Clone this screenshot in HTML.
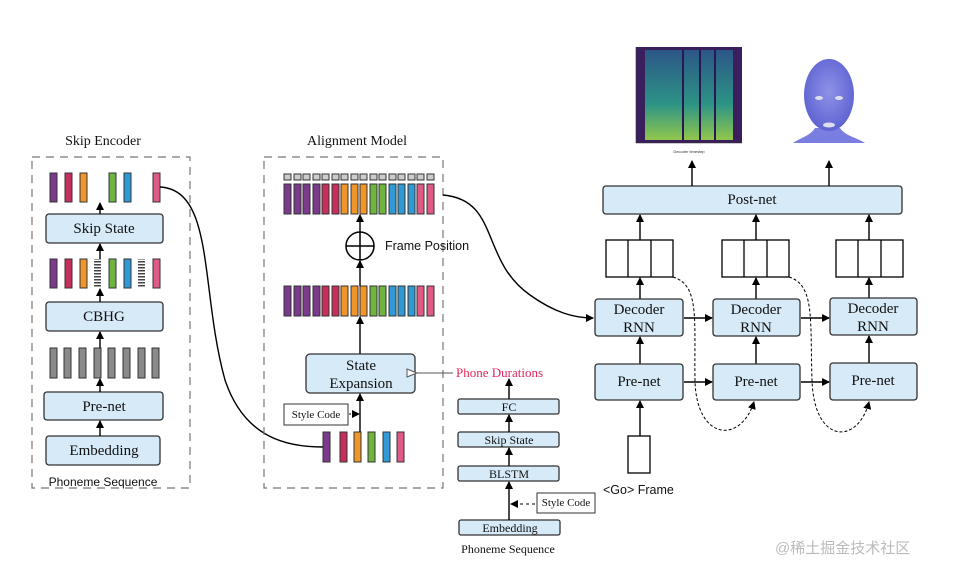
<!DOCTYPE html>
<html><head><meta charset="utf-8"><style>
body{margin:0;background:#fff}
svg{display:block}
.b{fill:#d6eaf8;stroke:#333;stroke-width:1.3}
.t{font-family:"Liberation Serif",serif;fill:#111;text-anchor:middle}
.s{font-family:"Liberation Sans",sans-serif;fill:#111}
.ar{stroke:#000;stroke-width:1.4;fill:none}
</style></head><body>
<svg width="954" height="576" viewBox="0 0 954 576" xmlns="http://www.w3.org/2000/svg">
<defs>
<marker id="a" markerWidth="8" markerHeight="8" refX="7" refY="4" orient="auto" markerUnits="userSpaceOnUse"><path d="M0,0 L8,4 L0,8z" fill="#000"/></marker>
<marker id="h" markerWidth="12" markerHeight="10" refX="1" refY="5" orient="auto" markerUnits="userSpaceOnUse"><path d="M11,1 L1,5 L11,9z" fill="#fff" stroke="#555"/></marker>
<pattern id="st" width="7" height="3" patternUnits="userSpaceOnUse"><rect width="7" height="3" fill="#fff"/><rect width="7" height="1.5" fill="#444"/></pattern>
<linearGradient id="sp" x1="0" y1="1" x2="0" y2="0"><stop offset="0" stop-color="#9bd94a"/><stop offset="0.4" stop-color="#2aa08a"/><stop offset="1" stop-color="#2b5c8c"/></linearGradient>
<radialGradient id="fc" cx="0.5" cy="0.45" r="0.6"><stop offset="0" stop-color="#8f92e6"/><stop offset="1" stop-color="#5a5fd0"/></radialGradient>
</defs>

<!-- Skip Encoder -->
<text class="t" x="103" y="145" font-size="14">Skip Encoder</text>
<rect x="32" y="157" width="158" height="331" fill="none" stroke="#777" stroke-dasharray="8,6" stroke-width="1.2"/>
<g stroke="#333" stroke-width="1">
<rect x="50" y="173" width="7" height="29" fill="#7b3a8c"/><rect x="65" y="173" width="7" height="29" fill="#c82e5a"/><rect x="80" y="173" width="7" height="29" fill="#f0952a"/><rect x="109" y="173" width="7" height="29" fill="#6fb43f"/><rect x="124" y="173" width="7" height="29" fill="#2f9ad6"/><rect x="153" y="173" width="7" height="29" fill="#e05a86"/>
<rect x="50" y="259" width="7" height="29" fill="#7b3a8c"/><rect x="65" y="259" width="7" height="29" fill="#c82e5a"/><rect x="80" y="259" width="7" height="29" fill="#f0952a"/><rect x="94" y="259" width="7" height="29" fill="url(#st)" stroke="none"/><rect x="109" y="259" width="7" height="29" fill="#6fb43f"/><rect x="124" y="259" width="7" height="29" fill="#2f9ad6"/><rect x="138" y="259" width="7" height="29" fill="url(#st)" stroke="none"/><rect x="153" y="259" width="7" height="29" fill="#e05a86"/>
<g fill="#8a8a8a"><rect x="50" y="348" width="7" height="30"/><rect x="64" y="348" width="7" height="30"/><rect x="79" y="348" width="7" height="30"/><rect x="94" y="348" width="7" height="30"/><rect x="108" y="348" width="7" height="30"/><rect x="123" y="348" width="7" height="30"/><rect x="138" y="348" width="7" height="30"/><rect x="152" y="348" width="7" height="30"/></g>
</g>
<rect class="b" x="46" y="214" width="117" height="29" rx="3"/><text class="t" x="104" y="233" font-size="15">Skip State</text>
<rect class="b" x="46" y="302" width="117" height="29" rx="3"/><text class="t" x="104" y="321" font-size="15">CBHG</text>
<rect class="b" x="44" y="392" width="119" height="28" rx="3"/><text class="t" x="104" y="411" font-size="15">Pre-net</text>
<rect class="b" x="46" y="436" width="114" height="29" rx="3"/><text class="t" x="104" y="455" font-size="15">Embedding</text>
<text class="s" x="103" y="486" font-size="12" text-anchor="middle">Phoneme Sequence</text>
<g class="ar" marker-end="url(#a)">
<line x1="100" y1="214" x2="100" y2="203"/><line x1="100" y1="302" x2="100" y2="289"/><line x1="100" y1="392" x2="100" y2="379"/><line x1="100" y1="436" x2="100" y2="421"/><line x1="100" y1="348" x2="100" y2="332"/><line x1="100" y1="259" x2="100" y2="244"/>
</g>
<path d="M160,187 C215,190 200,290 225,380 C245,440 290,447 323,447" class="ar"/>

<!-- Alignment Model -->
<text class="t" x="357" y="145" font-size="14">Alignment Model</text>
<rect x="264" y="157" width="179" height="331" fill="none" stroke="#777" stroke-dasharray="8,6" stroke-width="1.2"/>
<g stroke="#333" stroke-width="1">
<g fill="#ccc">
<rect x="284" y="174" width="7" height="6"/><rect x="294" y="174" width="7" height="6"/><rect x="303" y="174" width="7" height="6"/><rect x="313" y="174" width="7" height="6"/><rect x="322" y="174" width="7" height="6"/><rect x="332" y="174" width="7" height="6"/><rect x="341" y="174" width="7" height="6"/><rect x="351" y="174" width="7" height="6"/><rect x="360" y="174" width="7" height="6"/><rect x="370" y="174" width="7" height="6"/><rect x="379" y="174" width="7" height="6"/><rect x="389" y="174" width="7" height="6"/><rect x="398" y="174" width="7" height="6"/><rect x="408" y="174" width="7" height="6"/><rect x="417" y="174" width="7" height="6"/><rect x="427" y="174" width="7" height="6"/>
</g>
<g id="row">
<rect x="284" y="184" width="7" height="30" fill="#7b3a8c"/><rect x="294" y="184" width="7" height="30" fill="#7b3a8c"/><rect x="303" y="184" width="7" height="30" fill="#7b3a8c"/><rect x="313" y="184" width="7" height="30" fill="#7b3a8c"/><rect x="322" y="184" width="7" height="30" fill="#c82e5a"/><rect x="332" y="184" width="7" height="30" fill="#c82e5a"/><rect x="341" y="184" width="7" height="30" fill="#f0952a"/><rect x="351" y="184" width="7" height="30" fill="#f0952a"/><rect x="360" y="184" width="7" height="30" fill="#f0952a"/><rect x="370" y="184" width="7" height="30" fill="#6fb43f"/><rect x="379" y="184" width="7" height="30" fill="#6fb43f"/><rect x="389" y="184" width="7" height="30" fill="#2f9ad6"/><rect x="398" y="184" width="7" height="30" fill="#2f9ad6"/><rect x="408" y="184" width="7" height="30" fill="#2f9ad6"/><rect x="417" y="184" width="7" height="30" fill="#e05a86"/><rect x="427" y="184" width="7" height="30" fill="#e05a86"/>
</g>
<use href="#row" y="102"/>
<rect x="323" y="432" width="7" height="30" fill="#7b3a8c"/><rect x="340" y="432" width="7" height="30" fill="#c82e5a"/><rect x="354" y="432" width="7" height="30" fill="#f0952a"/><rect x="368" y="432" width="7" height="30" fill="#6fb43f"/><rect x="383" y="432" width="7" height="30" fill="#2f9ad6"/><rect x="397" y="432" width="7" height="30" fill="#e05a86"/>
</g>
<circle cx="360" cy="246" r="14" fill="#fff" stroke="#000" stroke-width="1.5"/>
<line x1="346" y1="246" x2="374" y2="246" stroke="#000" stroke-width="1.5"/><line x1="360" y1="232" x2="360" y2="260" stroke="#000" stroke-width="1.5"/>
<text class="s" x="385" y="250" font-size="12.5">Frame Position</text>
<g class="ar" marker-end="url(#a)">
<line x1="360" y1="232" x2="360" y2="215"/><line x1="360" y1="286" x2="360" y2="261"/><line x1="360" y1="354" x2="360" y2="317"/><line x1="360" y1="432" x2="360" y2="394"/>
</g>
<rect class="b" x="306" y="354" width="109" height="39" rx="4"/>
<text class="t" x="361" y="370" font-size="15">State</text><text class="t" x="361" y="388" font-size="15">Expansion</text>
<rect x="284" y="404" width="64" height="21" fill="#fff" stroke="#333"/><text class="t" x="316" y="418" font-size="11">Style Code</text>
<line x1="349" y1="414" x2="359" y2="414" stroke="#000" stroke-dasharray="2,2" marker-end="url(#a)"/>
<line x1="453" y1="373" x2="417" y2="373" stroke="#555" marker-end="url(#h)"/>
<text x="456" y="377" font-family="Liberation Serif,serif" font-size="13" fill="#e0285a">Phone Durations</text>

<!-- duration predictor -->
<rect class="b" x="458" y="399" width="101" height="15" rx="2"/><text class="t" x="509" y="411" font-size="12">FC</text>
<rect class="b" x="458" y="432" width="101" height="15" rx="2"/><text class="t" x="509" y="444" font-size="12">Skip State</text>
<rect class="b" x="458" y="466" width="101" height="15" rx="2"/><text class="t" x="509" y="478" font-size="12">BLSTM</text>
<rect class="b" x="459" y="520" width="101" height="15" rx="2"/><text class="t" x="510" y="532" font-size="12">Embedding</text>
<text class="t" x="508" y="553" font-size="12">Phoneme Sequence</text>
<rect x="537" y="493" width="58" height="20" fill="#fff" stroke="#333"/><text class="t" x="566" y="506" font-size="11">Style Code</text>
<g class="ar" marker-end="url(#a)">
<line x1="509" y1="399" x2="509" y2="379"/><line x1="509" y1="432" x2="509" y2="415"/><line x1="509" y1="466" x2="509" y2="448"/><line x1="509" y1="520" x2="509" y2="482"/>
</g>
<line x1="535" y1="504" x2="511" y2="504" stroke="#000" stroke-dasharray="3,3" marker-end="url(#a)"/>

<!-- curve to decoder -->
<path d="M443,195 C500,200 480,260 530,295 C555,313 575,318 593,318" class="ar" marker-end="url(#a)"/>

<!-- Decoder -->
<rect class="b" x="603" y="186" width="299" height="28" rx="3"/><text class="t" x="752" y="204" font-size="15">Post-net</text>
<g class="ar" marker-end="url(#a)">
<line x1="692" y1="186" x2="692" y2="161"/><line x1="829" y1="186" x2="829" y2="161"/>
<line x1="640" y1="240" x2="640" y2="215"/><line x1="756" y1="240" x2="756" y2="215"/><line x1="869" y1="240" x2="869" y2="215"/>
<line x1="640" y1="299" x2="640" y2="278"/><line x1="756" y1="299" x2="756" y2="278"/><line x1="869" y1="298" x2="869" y2="278"/>
<line x1="640" y1="364" x2="640" y2="337"/><line x1="756" y1="364" x2="756" y2="337"/><line x1="869" y1="363" x2="869" y2="336"/>
<line x1="640" y1="436" x2="640" y2="401"/>
<line x1="684" y1="318" x2="712" y2="318"/><line x1="801" y1="318" x2="829" y2="318"/>
<line x1="684" y1="382" x2="712" y2="382"/><line x1="801" y1="382" x2="829" y2="382"/>
</g>
<g fill="#fff" stroke="#000" stroke-width="1.3">
<rect x="606" y="240" width="67" height="37"/><line x1="628" y1="240" x2="628" y2="277"/><line x1="651" y1="240" x2="651" y2="277"/>
<rect x="722" y="240" width="67" height="37"/><line x1="744" y1="240" x2="744" y2="277"/><line x1="767" y1="240" x2="767" y2="277"/>
<rect x="836" y="240" width="67" height="37"/><line x1="858" y1="240" x2="858" y2="277"/><line x1="881" y1="240" x2="881" y2="277"/>
<rect x="628" y="436" width="22" height="37"/>
</g>
<rect class="b" x="595" y="299" width="88" height="37" rx="3"/><text class="t" x="639" y="314" font-size="15">Decoder</text><text class="t" x="639" y="332" font-size="15">RNN</text>
<rect class="b" x="713" y="299" width="87" height="37" rx="3"/><text class="t" x="756" y="314" font-size="15">Decoder</text><text class="t" x="756" y="332" font-size="15">RNN</text>
<rect class="b" x="830" y="298" width="87" height="37" rx="3"/><text class="t" x="873" y="313" font-size="15">Decoder</text><text class="t" x="873" y="331" font-size="15">RNN</text>
<rect class="b" x="595" y="364" width="88" height="36" rx="3"/><text class="t" x="639" y="386" font-size="15">Pre-net</text>
<rect class="b" x="713" y="364" width="87" height="36" rx="3"/><text class="t" x="756" y="386" font-size="15">Pre-net</text>
<rect class="b" x="830" y="363" width="87" height="37" rx="3"/><text class="t" x="873" y="385" font-size="15">Pre-net</text>
<path d="M673,277 C700,285 694,320 695,380 C696,440 740,445 754,402" fill="none" stroke="#000" stroke-dasharray="3,2" marker-end="url(#a)"/>
<path d="M789,277 C815,285 810,320 812,380 C814,445 858,445 869,402" fill="none" stroke="#000" stroke-dasharray="3,2" marker-end="url(#a)"/>
<text class="s" x="603" y="494" font-size="12.5">&lt;Go&gt; Frame</text>

<!-- spectrogram -->
<rect x="636" y="47" width="106" height="96" fill="#3b1f5c"/>
<rect x="645" y="50" width="88" height="90" fill="url(#sp)" opacity="0.9"/>
<g stroke="#2a1850" stroke-width="2"><line x1="683" y1="50" x2="683" y2="140"/><line x1="700" y1="50" x2="700" y2="140"/><line x1="715" y1="50" x2="715" y2="140"/></g>
<line x1="636" y1="143" x2="742" y2="143" stroke="#333" stroke-width="0.6"/><line x1="636" y1="47" x2="636" y2="143" stroke="#333" stroke-width="0.6"/>
<text x="689" y="153" font-size="4" font-family="Liberation Sans,sans-serif" text-anchor="middle" fill="#333">Decoder timestep</text>
<!-- face -->
<path d="M793,143 C800,138 810,136 815,128 L840,128 C845,136 858,138 865,143 Z" fill="#7a7ee0"/>
<ellipse cx="829" cy="95" rx="25" ry="36" fill="url(#fc)"/>
<ellipse cx="819" cy="98" rx="4" ry="2" fill="#dde"/><ellipse cx="839" cy="98" rx="4" ry="2" fill="#dde"/><ellipse cx="829" cy="125" rx="6" ry="2.5" fill="#dde"/>

<text x="775" y="553" font-family="Liberation Sans,'Noto Sans CJK SC',sans-serif" font-size="15" fill="#bbb">@稀土掘金技术社区</text>
</svg>
</body></html>
